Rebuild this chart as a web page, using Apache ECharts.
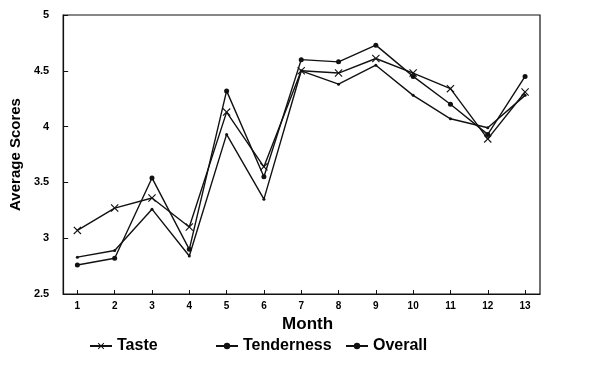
<!DOCTYPE html>
<html>
<head>
<meta charset="utf-8">
<style>
  html, body { margin: 0; padding: 0; background: #fff; }
  #chart { width: 603px; height: 377px; }
</style>
<script src="https://cdn.jsdelivr.net/npm/echarts@6/dist/echarts.min.js"></script>
</head>
<body>
<div id="chart"></div>
<script>
// months on the x axis
const months = [1, 2, 3, 4, 5, 6, 7, 8, 9, 10, 11, 12, 13]
const yTicks = [2.5, 3, 3.5, 4, 4.5, 5]

// average scores
const taste      = [3.07, 3.27, 3.36, 3.10, 4.13, 3.64, 4.50, 4.48, 4.61, 4.48, 4.34, 3.89, 4.31]
const tenderness = [2.76, 2.82, 3.54, 2.90, 4.32, 3.55, 4.60, 4.58, 4.73, 4.45, 4.20, 3.93, 4.45]
const overall    = [2.83, 2.89, 3.26, 2.84, 3.93, 3.35, 4.50, 4.38, 4.55, 4.28, 4.07, 3.99, 4.28]

const crossPath = 'path://M0,1L1,0L5,4L9,0L10,1L6,5L10,9L9,10L5,6L1,10L0,9L4,5Z'
const font = "'Liberation Sans', Arial, sans-serif"
const narrow = "'Liberation Sans Narrow', 'Liberation Sans', Arial, sans-serif"

const pairs = vals => months.map((m, i) => [m, vals[i]])

const legendBase = {
  top: 333,
  itemWidth: 22,
  itemHeight: 8,
  itemGap: 4,
  textStyle: { fontFamily: narrow, fontSize: 16, fontWeight: 'bold', color: '#000' }
}

const dom = echarts.init(document.getElementById('chart'))
dom.setOption({
  animation: false,
  backgroundColor: '#fff',
  grid: {
    left: 58, right: 63, top: 15, bottom: 83,
    show: true, borderColor: '#111', borderWidth: 1.2
  },
  legend: [
    Object.assign({ left: 84, data: ['Taste'] }, legendBase),
    Object.assign({ left: 210, data: ['Tenderness'] }, legendBase),
    Object.assign({ left: 340, data: ['Overall'] }, legendBase)
  ],
  xAxis: {
    type: 'value',
    min: 0.62,
    max: 13.4,
    name: 'Month',
    nameLocation: 'middle',
    nameGap: 18,
    nameTextStyle: { fontFamily: narrow, fontSize: 17, fontWeight: 'bold', color: '#000', padding: [0, 0, 0, 12] },
    axisLine: { lineStyle: { color: '#111', width: 1.2 } },
    axisTick: { inside: true, length: 4, customValues: months, lineStyle: { color: '#111' } },
    axisLabel: { customValues: months, fontFamily: font, fontSize: 10, fontWeight: 'bold', color: '#000', margin: 7 },
    splitLine: { show: false }
  },
  yAxis: {
    type: 'value',
    min: 2.5,
    max: 5,
    interval: 0.5,
    name: 'Average Scores',
    nameLocation: 'middle',
    nameGap: 37,
    nameTextStyle: { fontFamily: font, fontSize: 15, fontWeight: 'bold', color: '#000' },
    axisLine: { show: true, lineStyle: { color: '#111', width: 1.2 } },
    axisTick: { show: true, inside: true, length: 5, lineStyle: { color: '#111' } },
    axisLabel: {
      fontFamily: font, fontSize: 11, fontWeight: 'bold', color: '#000', margin: 14,
      formatter: v => yTicks.includes(v) ? String(v) : ''
    },
    splitLine: { show: false }
  },
  series: [
    {
      name: 'Taste', type: 'line', data: pairs(taste),
      symbol: crossPath, symbolSize: 8,
      lineStyle: { color: '#111', width: 1.4 }, itemStyle: { color: '#111' }
    },
    {
      name: 'Tenderness', type: 'line', data: pairs(tenderness),
      symbol: 'circle', symbolSize: 5,
      lineStyle: { color: '#111', width: 1.4 }, itemStyle: { color: '#111' }
    },
    {
      name: 'Overall', type: 'line', data: pairs(overall),
      symbol: 'circle', symbolSize: 3,
      lineStyle: { color: '#111', width: 1.4 }, itemStyle: { color: '#111' }
    }
  ]
})
</script>
</body>
</html>
